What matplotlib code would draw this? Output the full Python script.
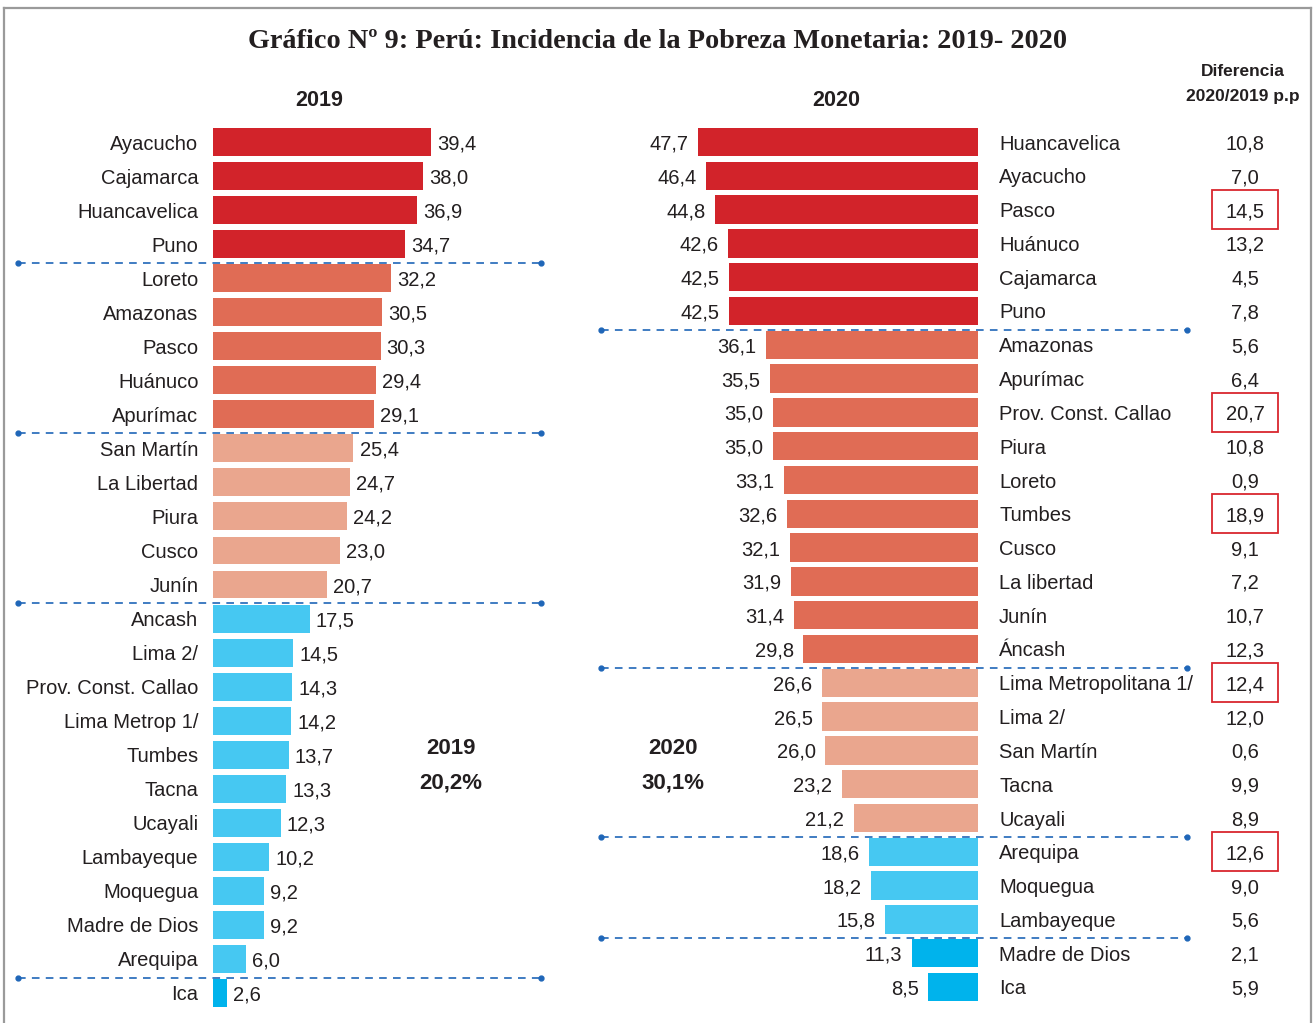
import matplotlib
matplotlib.use('Agg')
import matplotlib.pyplot as plt
from matplotlib.patches import Rectangle
from matplotlib.lines import Line2D

plt.rcParams['font.family'] = ['Liberation Sans', 'DejaVu Sans']
plt.rcParams['lines.scale_dashes'] = False

W, H = 1314, 1023

# --- data ---
regions_2019 = ['Ayacucho', 'Cajamarca', 'Huancavelica', 'Puno', 'Loreto', 'Amazonas', 'Pasco',
                'Huánuco', 'Apurímac', 'San Martín', 'La Libertad', 'Piura', 'Cusco', 'Junín',
                'Ancash', 'Lima 2/', 'Prov. Const. Callao', 'Lima Metrop 1/', 'Tumbes', 'Tacna',
                'Ucayali', 'Lambayeque', 'Moquegua', 'Madre de Dios', 'Arequipa', 'Ica']
pov_2019 = [39.4, 38.0, 36.9, 34.7, 32.2, 30.5, 30.3, 29.4, 29.1, 25.4, 24.7, 24.2, 23.0, 20.7,
            17.5, 14.5, 14.3, 14.2, 13.7, 13.3, 12.3, 10.2, 9.2, 9.2, 6.0, 2.6]
group_2019 = [0] * 4 + [1] * 5 + [2] * 5 + [3] * 11 + [4]

regions_2020 = ['Huancavelica', 'Ayacucho', 'Pasco', 'Huánuco', 'Cajamarca', 'Puno', 'Amazonas',
                'Apurímac', 'Prov. Const. Callao', 'Piura', 'Loreto', 'Tumbes', 'Cusco',
                'La libertad', 'Junín', 'Áncash', 'Lima Metropolitana 1/', 'Lima 2/', 'San Martín',
                'Tacna', 'Ucayali', 'Arequipa', 'Moquegua', 'Lambayeque', 'Madre de Dios', 'Ica']
pov_2020 = [47.7, 46.4, 44.8, 42.6, 42.5, 42.5, 36.1, 35.5, 35.0, 35.0, 33.1, 32.6, 32.1, 31.9,
            31.4, 29.8, 26.6, 26.5, 26.0, 23.2, 21.2, 18.6, 18.2, 15.8, 11.3, 8.5]
group_2020 = [0] * 6 + [1] * 10 + [2] * 5 + [3] * 3 + [4] * 2
diff_pp = [10.8, 7.0, 14.5, 13.2, 4.5, 7.8, 5.6, 6.4, 20.7, 10.8, 0.9, 18.9, 9.1, 7.2, 10.7,
           12.3, 12.4, 12.0, 0.6, 9.9, 8.9, 12.6, 9.0, 5.6, 2.1, 5.9]
highlight = ['Pasco', 'Prov. Const. Callao', 'Tumbes', 'Lima Metropolitana 1/', 'Arequipa']

total = {'2019': '20,2%', '2020': '30,1%'}

COLORS = ['#D2232A', '#E06C55', '#EAA68E', '#46C8F2', '#00B3EC']
TXT = '#231F20'
DASH = '#1F66B8'
FS = 14.5


def fmt(v):
    return f'{v:.1f}'.replace('.', ',')


def fx(x):
    return x / W


def fy(y):
    return 1 - y / H


fig = plt.figure(figsize=(W / 100, H / 100), dpi=100)
fig.patch.set_facecolor('white')

# frame
for xs, ys in [([4, 4], [8, 1030]), ([4, 1311], [8, 8]), ([1311, 1311], [8, 1030])]:
    fig.add_artist(Line2D([fx(x) for x in xs], [fy(y) for y in ys], color='#9A9A9A', lw=1.6))

fig.text(fx(658), fy(42), 'Gráfico Nº 9: Perú: Incidencia de la Pobreza Monetaria: 2019- 2020',
         family='Liberation Serif', weight='bold', fontsize=20.3, color=TXT, ha='center', va='center')

# --- left panel (2019) ---
n = len(regions_2019)
step_l = (993 - 142) / (n - 1)
top_l, bot_l = 142 - step_l / 2, 993 + step_l / 2
ax1 = fig.add_axes([fx(19), fy(bot_l), fx(545 - 19), (bot_l - top_l) / H])
ax1.set_xlim(-35, 60)
ax1.set_ylim(n - 0.5, -0.5)
ax1.axis('off')
rows = list(range(n))
ax1.barh(rows, pov_2019, height=0.82, color=[COLORS[g] for g in group_2019], zorder=2)
for i, (name, v) in enumerate(zip(regions_2019, pov_2019)):
    ax1.text(-2.6, i, name, ha='right', va='center_baseline', fontsize=FS, color=TXT)
    ax1.text(v + 1.1, i, fmt(v), ha='left', va='center_baseline', fontsize=FS, color=TXT)
for i in range(1, n):
    if group_2019[i] != group_2019[i - 1]:
        ax1.plot([-35.2, 59.3], [i - 0.45, i - 0.45], color=DASH, lw=1.2, dashes=(5.5, 4.5),
                 marker='o', markersize=3.5, markevery=[0, 1], clip_on=False, zorder=3)

# --- right panel (2020) ---
m = len(regions_2020)
step_r = (987 - 142) / (m - 1)
top_r, bot_r = 142 - step_r / 2, 987 + step_r / 2
ax2 = fig.add_axes([fx(598), fy(bot_r), fx(1190 - 598), (bot_r - top_r) / H])
ax2.set_xlim(64.74, -36.12)
ax2.set_ylim(m - 0.5, -0.5)
ax2.axis('off')
rows = list(range(m))
ax2.barh(rows, pov_2020, height=0.84, color=[COLORS[g] for g in group_2020], zorder=2)
tr = ax2.get_yaxis_transform()
for i, (name, v, d) in enumerate(zip(regions_2020, pov_2020, diff_pp)):
    ax2.text(v + 1.6, i, fmt(v), ha='right', va='center_baseline', fontsize=FS, color=TXT)
    ax2.text(-3.6, i, name, ha='left', va='center_baseline', fontsize=FS, color=TXT)
    ax2.text(1.093, i, fmt(d), transform=tr, ha='center', va='center_baseline', fontsize=FS,
             color=TXT, clip_on=False)
    if name in highlight:
        ax2.add_patch(Rectangle((1.037, i - 0.58), 0.1115, 1.16, transform=tr, fill=False,
                                edgecolor='#D9262E', lw=1.3, clip_on=False))
for i in range(1, m):
    if group_2020[i] != group_2020[i - 1] and group_2020[i] != 1 or i == 6:
        ax2.plot([64.2, -35.6], [i - 0.45, i - 0.45], color=DASH, lw=1.2, dashes=(5.5, 4.5),
                 marker='o', markersize=3.5, markevery=[0, 1], clip_on=False, zorder=3)

# headers
fig.text(fx(319), fy(100), '2019', fontsize=15.5, weight='bold', color=TXT, ha='center', va='center')
fig.text(fx(836), fy(100), '2020', fontsize=15.5, weight='bold', color=TXT, ha='center', va='center')
fig.text(fx(1243), fy(72), 'Diferencia', fontsize=12.5, weight='bold', color=TXT, ha='center', va='center')
fig.text(fx(1243), fy(96), '2020/2019 p.p', fontsize=12.5, weight='bold', color=TXT, ha='center', va='center')

# totals
for x, yr in [(451, '2019'), (673, '2020')]:
    fig.text(fx(x), fy(748), yr, fontsize=16, weight='bold', color=TXT, ha='center', va='center')
    fig.text(fx(x), fy(783), total[yr], fontsize=16, weight='bold', color=TXT, ha='center', va='center')

fig.savefig('out.png', dpi=100, facecolor='white')
